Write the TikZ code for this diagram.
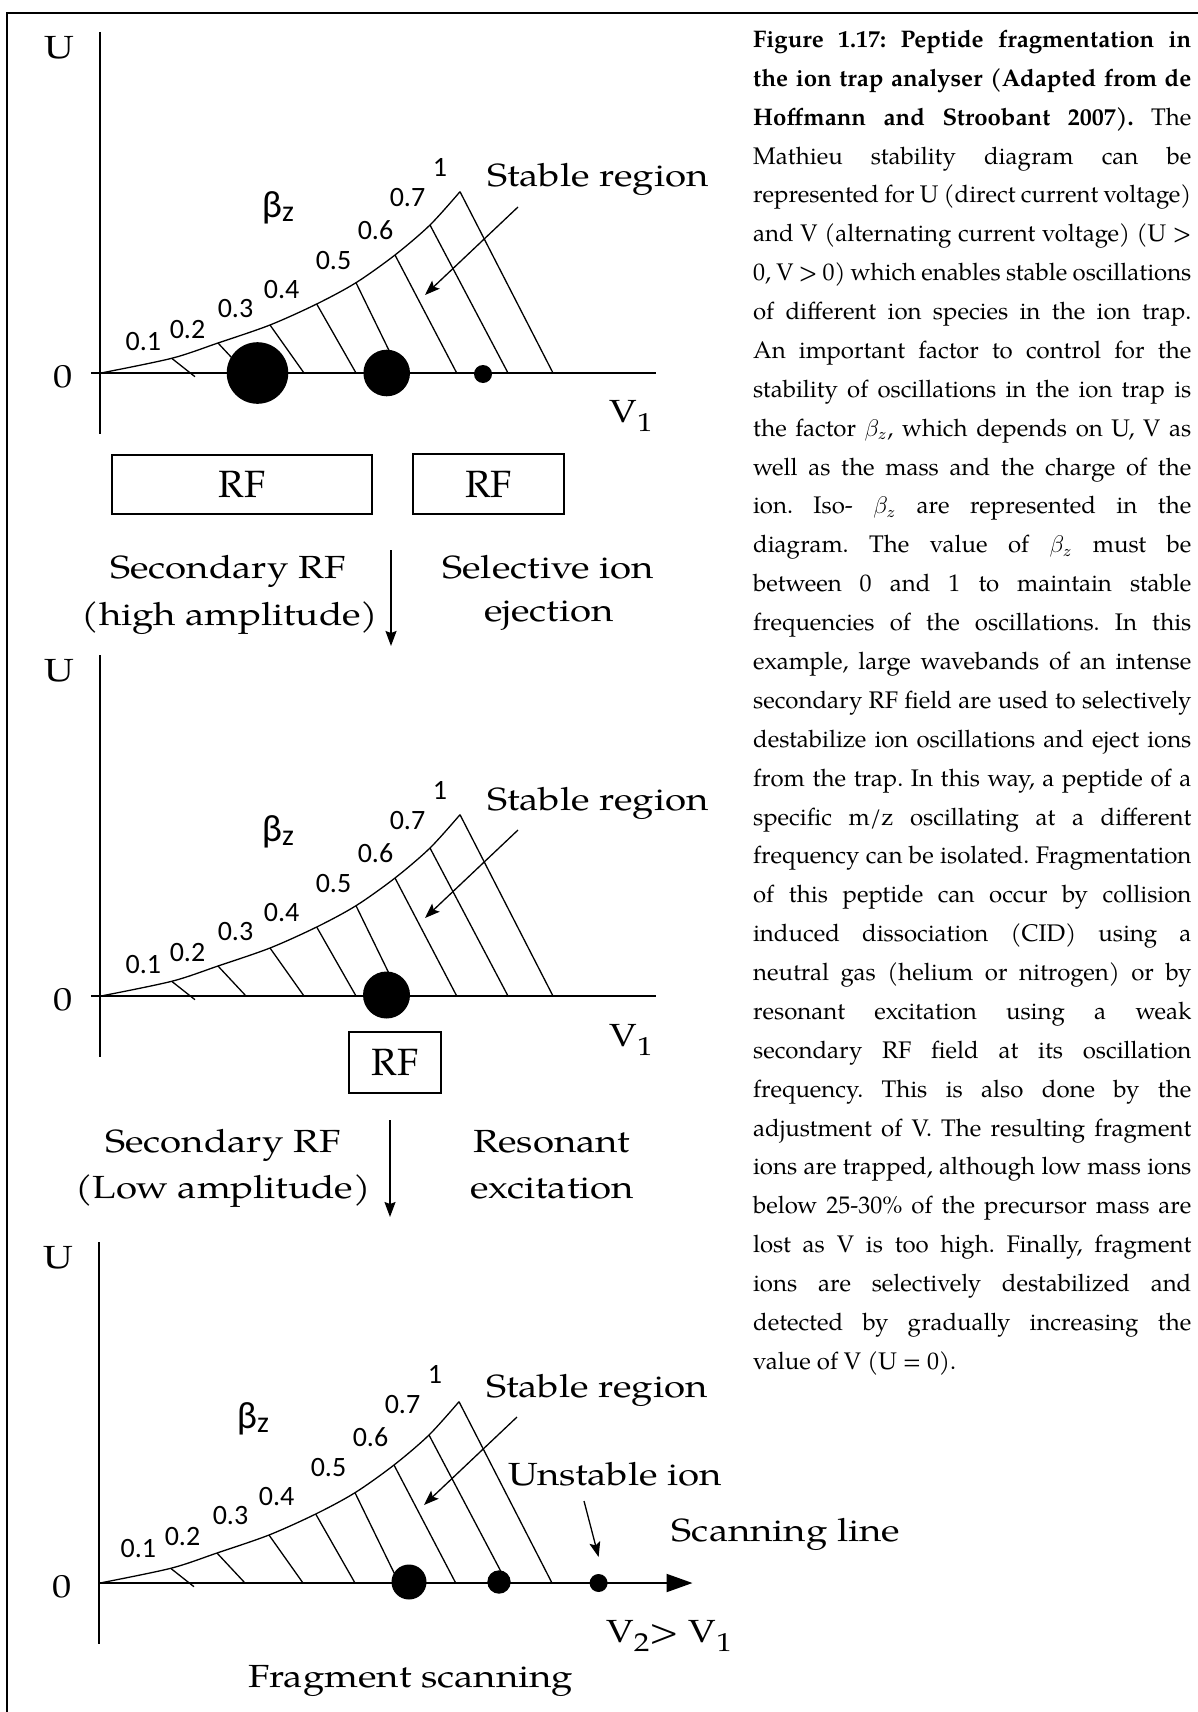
\documentclass[tikz,border=0pt]{standalone}
\usepackage{fontspec}
\setmainfont{TeX Gyre Pagella}
\newfontfamily\lblfont[FakeStretch=1.2]{TeX Gyre Pagella}
\newfontfamily\numfont{Carlito}
\usetikzlibrary{arrows.meta}
\newcommand\capline[1]{\hbox to 219.15pt{\strut #1}}
\newcommand\lsub[1]{\raisebox{-4.5pt}{\fontsize{13pt}{13pt}\selectfont #1}}
\frenchspacing
\tikzset{
  lbl/.style={inner sep=0pt, font=\lblfont\fontsize{16pt}{18pt}\selectfont},
  numlbl/.style={inner sep=0pt, font=\numfont\fontsize{14pt}{16pt}\selectfont},
  betalbl/.style={inner sep=0pt, font=\numfont\fontsize{19pt}{21pt}\selectfont},
  rfbox/.style={draw, line width=0.8pt, inner sep=0pt, font=\fontsize{19pt}{21pt}\selectfont},
  axisline/.style={line width=1pt},
  mcurve/.style={line width=0.65pt},
  iondot/.style={circle, fill=black, inner sep=0pt},
  ptr/.style={line width=0.65pt, -{Stealth[length=7.5pt,width=5.5pt,inset=1.5pt]}},
  flowarrow/.style={line width=0.8pt, -{Stealth[length=7.5pt,width=5.5pt,inset=1pt]}},
  pics/mathieu/.style args={#1/#2/#3}{code={
    \coordinate (-o) at (0,0);
    \coordinate (-yt) at (0,-341);
    \coordinate (-yb) at (0,61);
    \coordinate (-xl) at (-9,0);
    \coordinate (-xr) at (556,0);
    \coordinate (-xe) at (593.5,0);
    \draw[axisline] (-yt) -- (-yb);
    \draw[mcurve] plot[smooth] coordinates {(1,0) (71.7,-14.7) (118,-30) (170,-48) (216.7,-69) (256,-90.3) (295,-118) (330,-148) (360,-181.3)};
    \foreach \i/\cx/\cy/\hx/\hy in {1/71.7/-14.7/95/3.7, 2/118/-30/146/0, 3/170/-48/204/0, 4/216.7/-69/256/0, 5/256/-90.3/300/0, 6/295/-118/356.7/0, 7/330/-148/408/0, 8/360/-181.3/453/0}{
      \coordinate (-c\i) at (\cx,\cy);
      \coordinate (-h\i) at (\hx,\hy);
      \draw[mcurve] (-c\i) -- (-h\i);
    }
    \begin{scope}[shift={(#2,#3)}]
      \node[numlbl] (-n1) at (43.3,-31.3) {0.1};
      \node[numlbl] (-n2) at (87.5,-43) {0.2};
      \node[numlbl] (-n3) at (135.5,-64) {0.3};
      \node[numlbl] (-n4) at (181.7,-83) {0.4};
      \node[numlbl] (-n5) at (233.5,-112.2) {0.5};
      \node[numlbl] (-n6) at (275.5,-143.3) {0.6};
      \node[numlbl] (-n7) at (307.5,-175.5) {0.7};
      \node[numlbl] (-n8) at (340,-205.5) {1};
    \end{scope}
    \node[betalbl, anchor=base] (-beta) at (#1,-155) {β\raisebox{-2pt}{\fontsize{15pt}{15pt}\selectfont z}};
    \node[lbl] (-U) at (-41,-325) {U};
    \node[lbl] (-zero) at (-37,4) {0};
    \node[lbl, anchor=base] (-st) at (498,-186) {Stable region};
    \coordinate (-sa) at (418,-166);
    \coordinate (-sb) at (325,-78);
    \draw[ptr] (-sa) -- (-sb);
  }}
}
\begin{document}
\begin{tikzpicture}[x=0.5pt,y=-0.5pt]
\useasboundingbox (0,0) rectangle (1198,1712);
% frame
\coordinate (frl) at (7,1712);
\coordinate (frc) at (7,13);
\coordinate (frr) at (1198,13);
\draw[line width=1pt] (frl) -- (frc) -- (frr);

% three stability diagrams
\pic (A) at (100,373) {mathieu={178/0/0}};
\pic (B) at (100,996) {mathieu={178/0/0}};
\pic (C) at (99,1583) {mathieu={154/-4/-3}};

\draw[axisline] (A-xl) -- (A-xr);
\draw[axisline] (B-xl) -- (B-xr);
\draw[axisline, -{Triangle[length=13pt,width=9pt]}] (C-o) -- (C-xe);

% ions
\node[iondot, minimum size=30.8pt] (A-d1) at (257.5,373) {};
\node[iondot, minimum size=23.3pt] (A-d2) at (386.7,373) {};
\node[iondot, minimum size=9pt] (A-d3) at (483,374) {};
\node[iondot, minimum size=23.5pt] (B-d2) at (386.5,995) {};
\node[iondot, minimum size=17.5pt] (C-d1) at (409,1582) {};
\node[iondot, minimum size=11.7pt] (C-d2) at (499,1582) {};
\node[iondot, minimum size=9pt] (C-d3) at (598.6,1583) {};

\node[lbl, anchor=base] (A-V) at (631,422) {V\lsub{1}};
\node[lbl, anchor=base] (B-V) at (631,1046) {V\lsub{1}};

% RF boxes
\node[rfbox, minimum width=130pt, minimum height=29.5pt] (rf1) at (242,484.5) {RF};
\node[rfbox, minimum width=75.5pt, minimum height=30pt] (rf2) at (488.5,484) {RF};
\node[rfbox, minimum width=46pt, minimum height=30.5pt] (rf3) at (395,1062.5) {RF};

% first transition
\node[lbl, anchor=base] (t1a) at (228,578) {Secondary RF};
\node[lbl, anchor=base] (t1b) at (230,625) {(high amplitude)};
\node[lbl, anchor=base] (t1c) at (548,578) {Selective ion};
\node[lbl, anchor=base] (t1d) at (549,621) {ejection};
\coordinate (f1a) at (391,550);
\coordinate (f1b) at (391,646);
\draw[flowarrow] (f1a) -- (f1b);

% second transition
\node[lbl, anchor=base] (t2a) at (223,1152) {Secondary RF};
\node[lbl, anchor=base] (t2b) at (223,1198) {(Low amplitude)};
\node[lbl, anchor=base] (t2c) at (552,1152) {Resonant};
\node[lbl, anchor=base] (t2d) at (552,1198) {excitation};
\coordinate (f2a) at (390,1120);
\coordinate (f2b) at (390,1217);
\draw[flowarrow] (f2a) -- (f2b);

% bottom extras
\node[lbl, anchor=base] (unst) at (615,1485) {Unstable ion};
\coordinate (ua) at (584,1501);
\coordinate (ub) at (598.6,1557);
\draw[ptr] (ua) -- (ub);
\node[lbl, anchor=base] (scan) at (786,1541.5) {Scanning line};
\node[lbl, anchor=base] (v21) at (669,1642) {V\lsub{2}> V\lsub{1}};
\node[lbl, anchor=base] (frag) at (411,1687) {Fragment scanning};

% caption
\node[anchor=north west, inner sep=0pt, text width=219.15pt,
      font=\fontsize{12pt}{19.44pt}\selectfont] (caption) at (752.7,19.8) {%
\spaceskip=0pt\relax\xspaceskip=0pt\relax\lineskiplimit=-100pt\relax
\capline{\textbf{Figure 1.17: Peptide fragmentation in}}
\capline{\textbf{the ion trap analyser (Adapted from de}}
\capline{\textbf{Hoffmann and Stroobant 2007).} The}
\capline{Mathieu stability diagram can be}
\capline{represented for U (direct current voltage)}
\capline{and V (alternating current voltage) (U >}
\capline{0, V > 0) which enables stable oscillations}
\capline{of different ion species in the ion trap.}
\capline{An important factor to control for the}
\capline{stability of oscillations in the ion trap is}
\capline{the factor $\beta_z$, which depends on U, V as}
\capline{well as the mass and the charge of the}
\capline{ion. Iso- $\beta_z$ are represented in the}
\capline{diagram. The value of $\beta_z$ must be}
\capline{between 0 and 1 to maintain stable}
\capline{frequencies of the oscillations. In this}
\capline{example, large wavebands of an intense}
\capline{secondary RF field are used to selectively}
\capline{destabilize ion oscillations and eject ions}
\capline{from the trap. In this way, a peptide of a}
\capline{specific m/z oscillating at a different}
\capline{frequency can be isolated. Fragmentation}
\capline{of this peptide can occur by collision}
\capline{induced dissociation (CID) using a}
\capline{neutral gas (helium or nitrogen) or by}
\capline{resonant excitation using a weak}
\capline{secondary RF field at its oscillation}
\capline{frequency. This is also done by the}
\capline{adjustment of V. The resulting fragment}
\capline{ions are trapped, although low mass ions}
\capline{below 25-30\% of the precursor mass are}
\capline{lost as V is too high. Finally, fragment}
\capline{ions are selectively destabilized and}
\capline{detected by gradually increasing the}
\hbox to 219.15pt{\strut value of V (U = 0).\hfil}};
\end{tikzpicture}
\end{document}
